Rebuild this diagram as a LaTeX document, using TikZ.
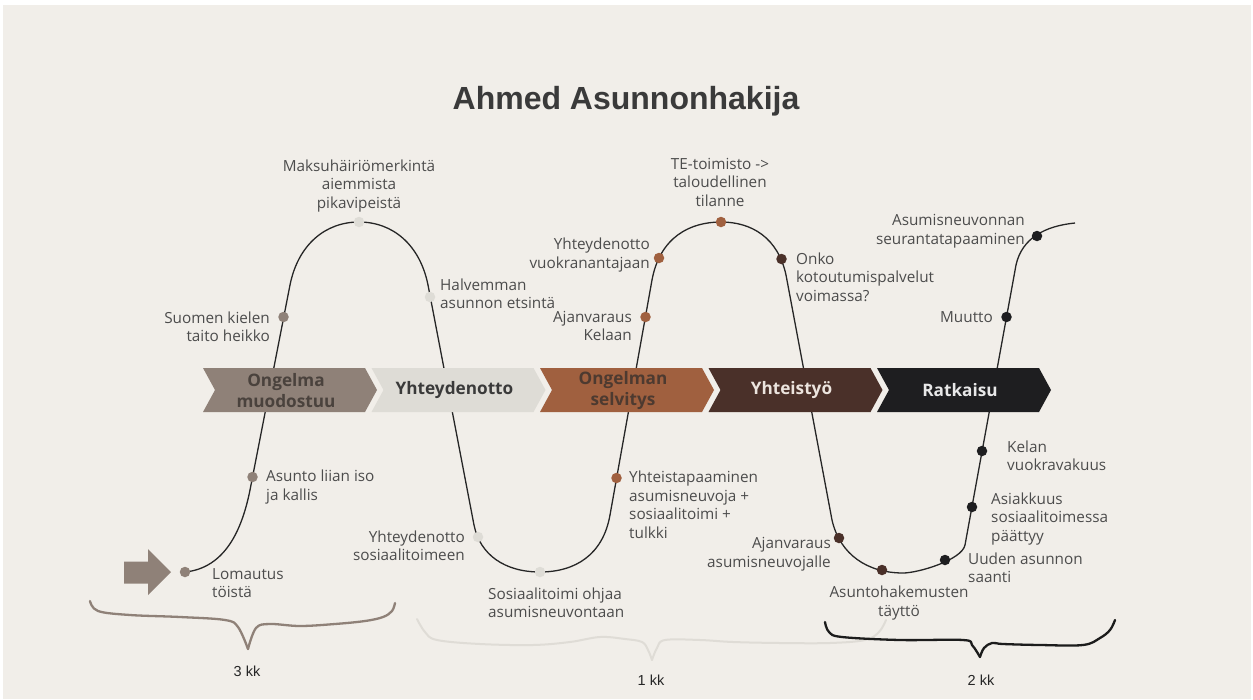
\documentclass[tikz,border=0pt]{standalone}
\usepackage{fontspec}
\setmainfont{Open Sans}
\newfontfamily\titlefont{Liberation Sans}
\definecolor{bg}{HTML}{F1EEE9}
\definecolor{taupe}{HTML}{8F8178}
\definecolor{lightph}{HTML}{DEDCD6}
\definecolor{brownph}{HTML}{A0603F}
\definecolor{dbrownph}{HTML}{4A3029}
\definecolor{blackph}{HTML}{1E1E20}
\definecolor{labelgray}{HTML}{4C4C4C}
\definecolor{titlegray}{HTML}{3A3A3A}
\definecolor{txtA}{HTML}{4A423D}
\definecolor{txtB}{HTML}{3A3A3A}
\definecolor{txtC}{HTML}{4D3A30}
\definecolor{txtD}{HTML}{ECE4DE}
\definecolor{txtE}{HTML}{E8E8E8}
\definecolor{bracedark}{HTML}{1C1C1C}
\definecolor{bracelight}{HTML}{DFDCD6}
\begin{document}
\begin{tikzpicture}[x=1pt,y=-1pt,
  lbl/.style={font=\fontsize{15.3}{18.5}\selectfont, text=labelgray, inner sep=0pt},
  chlbl/.style={font=\fontsize{17.2}{21}\selectfont\bfseries, align=center, inner sep=0pt},
  dot/.style={circle, minimum size=10.5pt, inner sep=0pt},
  curve/.style={line width=1.3pt, draw=black!85},
  bracel/.style={line width=2.3pt, line cap=round, line join=round},
  kk/.style={font=\titlefont\fontsize{14.5}{17}\selectfont, text=black!85, inner sep=0pt}]

% canvas and background
\fill[white] (0,0) rectangle (1253,699);
\fill[bg] (3,5) rectangle (1251,699);
\useasboundingbox (0,0) rectangle (1253,699);

% title
\node[font=\titlefont\bfseries\fontsize{32}{36}\selectfont, text=titlegray] (title) at (626,101) {Ahmed Asunnonhakija};

% timeline braces
\draw[bracel, taupe] plot[smooth, tension=0.6] coordinates {(90,601) (98,611) (130,615) (180,617) (225,620) (238,627) (248,649)};
\draw[bracel, taupe] plot[smooth, tension=0.6] coordinates {(248,649) (256,628) (270,624) (300,626) (335,624) (365,621) (383,617) (392,611) (395,603)};
\draw[bracel, bracelight, line width=2pt] plot[smooth, tension=0.6] coordinates {(417,619) (425,632) (437,640) (480,644) (533,645) (570,642) (600,637) (625,639) (642,642) (648,650) (652,660)};
\draw[bracel, bracelight, line width=2pt] plot[smooth, tension=0.6] coordinates {(652,660) (657,648) (665,640) (700,640) (733,642) (780,643) (830,643) (865,640) (879,632) (886,620)};
\draw[bracel, bracedark] plot[smooth, tension=0.6] coordinates {(825,622) (829,632) (842,637) (900,640) (963,640) (972,645) (980,657)};
\draw[bracel, bracedark] plot[smooth, tension=0.6] coordinates {(980,657) (984,648) (992,643) (1003,644) (1040,645) (1083,645) (1100,638) (1110,630) (1115,620)};
\node[kk] (dur1) at (247,671) {3 kk};
\node[kk] (dur2) at (651,680) {1 kk};
\node[kk] (dur3) at (981,680) {2 kk};

% start arrow
\fill[taupe] (124,561.5) -- (148,561.5) -- (148,549) -- (171,572) -- (148,595) -- (148,583.5) -- (124,583.5) -- cycle;

% journey curve
\draw[curve] (185,572) .. controls (225,568) and (242,530) .. (250,490)
  -- (290,285)
  .. controls (298,245) and (325,222) .. (359,222)
  .. controls (393,222) and (420,245) .. (428,285)
  -- (474,525)
  .. controls (480,555) and (505,572) .. (540,572)
  .. controls (575,572) and (603,555) .. (610,515)
  -- (652,280)
  .. controls (660,237) and (690,222) .. (721,222)
  .. controls (752,222) and (778,238) .. (786,275)
  -- (832,520)
  .. controls (840,555) and (868,573) .. (903,573)
  .. controls (918,573) and (962,560) .. (965,545)
  -- (1016,265)
  .. controls (1022,238) and (1045,226) .. (1075,223);

% phase chevrons
\foreach \i/\fc/\tc/\txt [count=\k] in {
  0/taupe/txtA/{Ongelma\\muodostuu},
  1/lightph/txtB/{Yhteydenotto},
  2/brownph/txtC/{Ongelman\\selvitys},
  3/dbrownph/txtD/{Yhteistyö},
  4/blackph/txtE/{Ratkaisu}} {
  \pgfmathsetmacro\cx{203+168.5*\i}
  \fill[\fc] (\cx,368) -- ++(162,0) -- ++(12,22) -- ++(-12,22) -- ++(-162,0) -- ++(12,-22) -- cycle;
  \node[chlbl, text=\tc] (phase\k) at (\cx+83,390.5) {\txt};
}

% events on the curve
\node[dot, fill=taupe] (e1) at (185,572) {};
\node[dot, fill=taupe] (e2) at (252.5,477) {};
\node[dot, fill=taupe] (e3) at (283.5,317) {};
\node[dot, fill=lightph] (e4) at (359,222) {};
\node[dot, fill=lightph] (e5) at (430,297) {};
\node[dot, fill=lightph] (e6) at (478,537) {};
\node[dot, fill=lightph] (e7) at (540,572) {};
\node[dot, fill=brownph] (e8) at (616.5,478) {};
\node[dot, fill=brownph] (e9) at (645.5,317) {};
\node[dot, fill=brownph] (e10) at (659,258) {};
\node[dot, fill=brownph] (e11) at (721,222) {};
\node[dot, fill=dbrownph] (e12) at (781.5,259) {};
\node[dot, fill=dbrownph] (e13) at (839,538) {};
\node[dot, fill=dbrownph] (e14) at (882,570) {};
\node[dot, fill=blackph] (e15) at (945,560) {};
\node[dot, fill=blackph] (e16) at (972,507) {};
\node[dot, fill=blackph] (e17) at (982,451) {};
\node[dot, fill=blackph] (e18) at (1006.5,317) {};
\node[dot, fill=blackph] (e19) at (1037,236) {};

% event labels
\node[lbl, anchor=west, align=left] (t1) at (212,583) {Lomautus\\töistä};
\node[lbl, anchor=west, align=left] (t2) at (266,487) {Asunto liian iso\\ja kallis};
\node[lbl, anchor=east, align=right] (t3) at (270,327) {Suomen kielen\\taito heikko};
\node[lbl, align=center] (t4) at (359,186) {Maksuhäiriömerkintä\\aiemmista\\pikavipeistä};
\node[lbl, anchor=west, align=left] (t5) at (440,294) {Halvemman\\asunnon etsintä};
\node[lbl, anchor=east, align=right] (t6) at (465,546) {Yhteydenotto\\sosiaalitoimeen};
\node[lbl, anchor=west, align=left] (t7) at (488,603) {Sosiaalitoimi ohjaa\\asumisneuvontaan};
\node[lbl, anchor=west, align=left] (t8) at (629,505) {Yhteistapaaminen\\asumisneuvoja +\\sosiaalitoimi +\\tulkki};
\node[lbl, anchor=east, align=right] (t9) at (632,326) {Ajanvaraus\\Kelaan};
\node[lbl, anchor=east, align=right] (t10) at (650,255) {Yhteydenotto\\vuokranantajaan};
\node[lbl, align=center] (t11) at (720,182) {TE-toimisto ->\\taloudellinen\\tilanne};
\node[lbl, anchor=west, align=left] (t12) at (796,277) {Onko\\kotoutumispalvelut\\voimassa?};
\node[lbl, anchor=east, align=right] (t13) at (1025,231) {Asumisneuvonnan\\seurantatapaaminen};
\node[lbl, anchor=east, align=right] (t14) at (993,317) {Muutto};
\node[lbl, anchor=west, align=left] (t15) at (1007,456) {Kelan\\vuokravakuus};
\node[lbl, anchor=west, align=left] (t16) at (991,519) {Asiakkuus\\sosiaalitoimessa\\päättyy};
\node[lbl, anchor=west, align=left] (t17) at (968,568) {Uuden asunnon\\saanti};
\node[lbl, align=center] (t18) at (899,603) {Asuntohakemusten\\täyttö};
\node[lbl, anchor=east, align=right] (t19) at (831,554) {Ajanvaraus\\asumisneuvojalle};
\end{tikzpicture}
\end{document}
